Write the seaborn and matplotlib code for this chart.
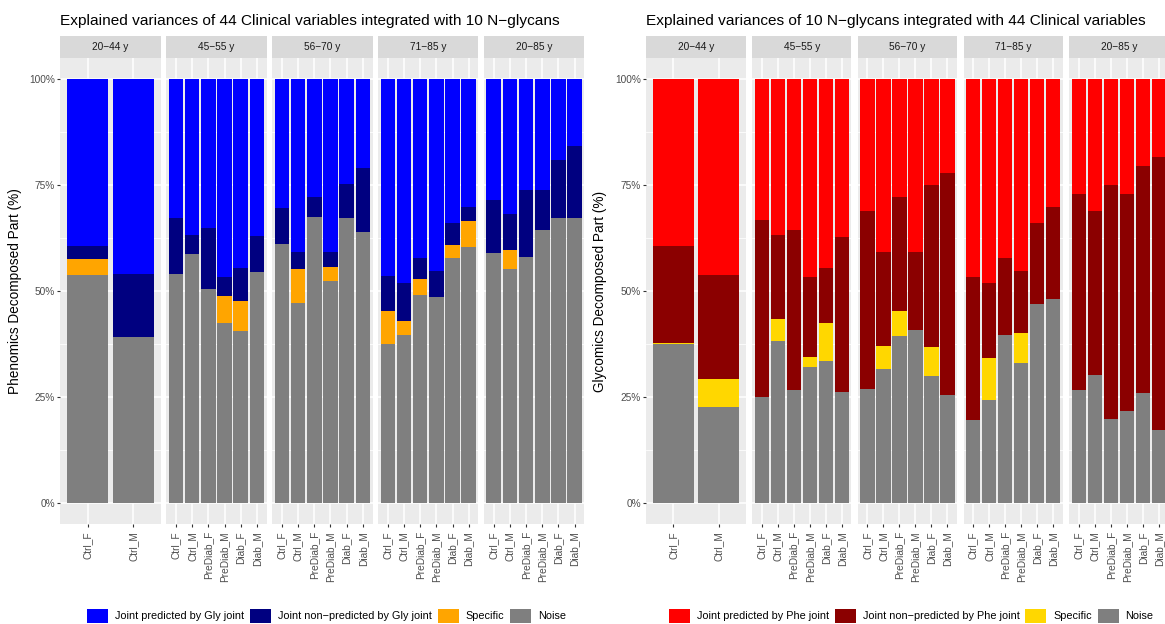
import numpy as np
import pandas as pd
import matplotlib
matplotlib.use("Agg")
import matplotlib.pyplot as plt
import seaborn as sns
from matplotlib.patches import Patch
from matplotlib.ticker import FixedLocator

plt.rcParams['font.family'] = ['Liberation Sans', 'DejaVu Sans']

# ---------------- data ----------------
groups = ["20−44 y", "45−55 y", "56−70 y", "71−85 y", "20−85 y"]
cats_young = ["Ctrl_F", "Ctrl_M"]
cats_full = ["Ctrl_F", "Ctrl_M", "PreDiab_F", "PreDiab_M", "Diab_F", "Diab_M"]
group_cats = [cats_young, cats_full, cats_full, cats_full, cats_full]

# Phenomics (clinical variables) decomposition, % per group/category
phe_noise = [[53.7, 39.1],
             [54.1, 58.7, 50.4, 42.4, 40.6, 54.4],
             [61.0, 47.1, 67.5, 52.4, 67.2, 63.8],
             [37.6, 39.7, 49.0, 48.6, 57.7, 60.4],
             [58.9, 55.1, 57.9, 64.3, 67.1, 67.1]]
phe_specific = [[3.9, 0.0],
                [0.0, 0.0, 0.0, 6.5, 7.1, 0.0],
                [0.0, 8.1, 0.0, 3.3, 0.0, 0.0],
                [7.7, 3.3, 3.9, 0.0, 3.1, 6.0],
                [0.0, 4.5, 0.0, 0.0, 0.0, 0.0]]
phe_nonpred = [[2.9, 14.9],
               [13.1, 4.4, 14.4, 4.4, 7.8, 8.5],
               [8.6, 4.0, 4.6, 3.5, 8.0, 15.3],
               [8.3, 8.8, 4.8, 6.2, 5.2, 3.3],
               [12.6, 8.6, 16.0, 9.6, 13.7, 17.1]]

# Glycomics (N-glycans) decomposition, % per group/category
gly_noise = [[37.5, 22.7],
             [25.1, 38.2, 26.6, 32.0, 33.6, 26.2],
             [26.8, 31.6, 39.5, 40.7, 30.0, 25.6],
             [19.6, 24.4, 39.7, 33.1, 46.9, 48.2],
             [26.6, 30.1, 19.8, 21.6, 26.0, 17.3]]
gly_specific = [[0.2, 6.6],
                [0.0, 5.2, 0.0, 2.4, 8.8, 0.0],
                [0.0, 5.4, 5.8, 0.0, 6.8, 0.0],
                [0.0, 9.9, 0.0, 7.0, 0.0, 0.0],
                [0.0, 0.0, 0.0, 0.0, 0.0, 0.0]]
gly_nonpred = [[22.8, 24.4],
               [41.6, 19.7, 37.7, 18.9, 13.1, 36.5],
               [42.1, 22.2, 26.8, 18.5, 38.3, 52.2],
               [33.7, 17.5, 18.0, 14.7, 19.1, 21.5],
               [46.2, 38.8, 55.1, 51.2, 53.5, 64.2]]

phe_labels = ["Joint predicted by Gly joint", "Joint non−predicted by Gly joint", "Specific", "Noise"]
gly_labels = ["Joint predicted by Phe joint", "Joint non−predicted by Phe joint", "Specific", "Noise"]
phe_colors = ["#0000FF", "#000080", "#FFA500", "#7F7F7F"]
gly_colors = ["#FF0000", "#8B0000", "#FFD700", "#7F7F7F"]

phe_title = "Explained variances of 44 Clinical variables integrated with 10 N−glycans"
gly_title = "Explained variances of 10 N−glycans integrated with 44 Clinical variables"
phe_ylabel = "Phenomics Decomposed Part (%)"
gly_ylabel = "Glycomics Decomposed Part (%)"


def build_df(noise, spec, nonpred):
    rows = []
    for g, cats, n_, s_, p_ in zip(groups, group_cats, noise, spec, nonpred):
        for c, n, s, p in zip(cats, n_, s_, p_):
            pred = 100.0 - (n + s + p)
            rows.append(dict(group=g, cat=c, noise=n, specific=s, nonpred=p, pred=pred))
    df = pd.DataFrame(rows)
    df["cum_noise"] = df["noise"]
    df["cum_spec"] = df["noise"] + df["specific"]
    df["cum_nonpred"] = df["cum_spec"] + df["nonpred"]
    df["cum_pred"] = df["cum_nonpred"] + df["pred"]
    return df


phe_df = build_df(phe_noise, phe_specific, phe_nonpred)
gly_df = build_df(gly_noise, gly_specific, gly_nonpred)

# ---------------- layout ----------------
W, H = 1165, 624
fig = plt.figure(figsize=(W / 100, H / 100), dpi=100)
fig.patch.set_facecolor("white")


def add_ax(x0, y0, w, h):
    return fig.add_axes([x0 / W, 1 - (y0 + h) / H, w / W, h / H])


PANEL_TOP, PANEL_BOT = 57.7, 524.3
STRIP_TOP = 36.0


def draw_panel(df, colors, x0, pw, gap, title, ylabel, ylab_x, labels, leg_x):
    cum_cols = ["cum_pred", "cum_nonpred", "cum_spec", "cum_noise"]
    for i, (g, cats) in enumerate(zip(groups, group_cats)):
        px = x0 + i * (pw + gap)
        ax = add_ax(px, PANEL_TOP, pw, PANEL_BOT - PANEL_TOP)
        ax.set_facecolor("#EBEBEB")
        sub = df[df["group"] == g]
        for col, colr in zip(cum_cols, colors):
            sns.barplot(data=sub, x="cat", y=col, order=cats, color=colr,
                        width=0.9, saturation=1, errorbar=None,
                        linewidth=0, ax=ax, zorder=2)
        n = len(cats)
        ax.set_xlim(-0.6, n - 1 + 0.6)
        ax.set_ylim(-5, 105)
        ax.set_xlabel("")
        ax.set_ylabel("")
        ax.yaxis.set_major_locator(FixedLocator([0, 25, 50, 75, 100]))
        ax.yaxis.set_minor_locator(FixedLocator([12.5, 37.5, 62.5, 87.5]))
        ax.grid(True, which="major", color="white", linewidth=1.1, zorder=0)
        ax.grid(True, which="minor", axis="y", color="white", linewidth=0.55, zorder=0)
        ax.set_axisbelow(True)
        for s in ax.spines.values():
            s.set_visible(False)
        ax.tick_params(axis="x", length=2.3, width=0.8, color="#333333", pad=2.5,
                       labelsize=7.3, labelcolor="#4D4D4D", labelrotation=90)
        ax.tick_params(axis="y", which="minor", length=0)
        if i == 0:
            ax.set_yticklabels(["0%", "25%", "50%", "75%", "100%"])
            ax.tick_params(axis="y", which="major", length=2.3, width=0.8, color="#333333",
                           pad=1.5, labelsize=7.3, labelcolor="#4D4D4D")
        else:
            ax.tick_params(axis="y", which="major", length=0, labelleft=False)
        # strip
        sax = add_ax(px, STRIP_TOP, pw, PANEL_TOP - STRIP_TOP)
        sax.set_facecolor("#D9D9D9")
        sax.set_xticks([])
        sax.set_yticks([])
        for s in sax.spines.values():
            s.set_visible(False)
        sax.text(0.5, 0.5, g, ha="center", va="center", fontsize=7.3,
                 color="#1A1A1A", transform=sax.transAxes)
    # title
    fig.text(x0 / W, 1 - 21.5 / H, title, ha="left", va="center", fontsize=11.1, color="black")
    # y label
    fig.text(ylab_x / W, 1 - ((PANEL_TOP + PANEL_BOT) / 2) / H, ylabel, rotation=90,
             ha="center", va="center", fontsize=9.8, color="black")
    # legend
    handles = [Patch(facecolor=c, edgecolor="none") for c in colors]
    fig.legend(handles, labels, loc="center left", bbox_to_anchor=(leg_x / W, 1 - 615.8 / H),
               ncol=4, frameon=False, fontsize=7.8, handlelength=1.94, handleheight=1.57,
               handletextpad=0.62, columnspacing=0.55, borderpad=0, borderaxespad=0)


draw_panel(phe_df, phe_colors, 60.4, 100.3, 5.6, phe_title, phe_ylabel, 15, phe_labels, 87.3)
draw_panel(gly_df, gly_colors, 646.4, 99.3, 6.4, gly_title, gly_ylabel, 600, gly_labels, 669.0)

fig.savefig("out.png", dpi=100)
